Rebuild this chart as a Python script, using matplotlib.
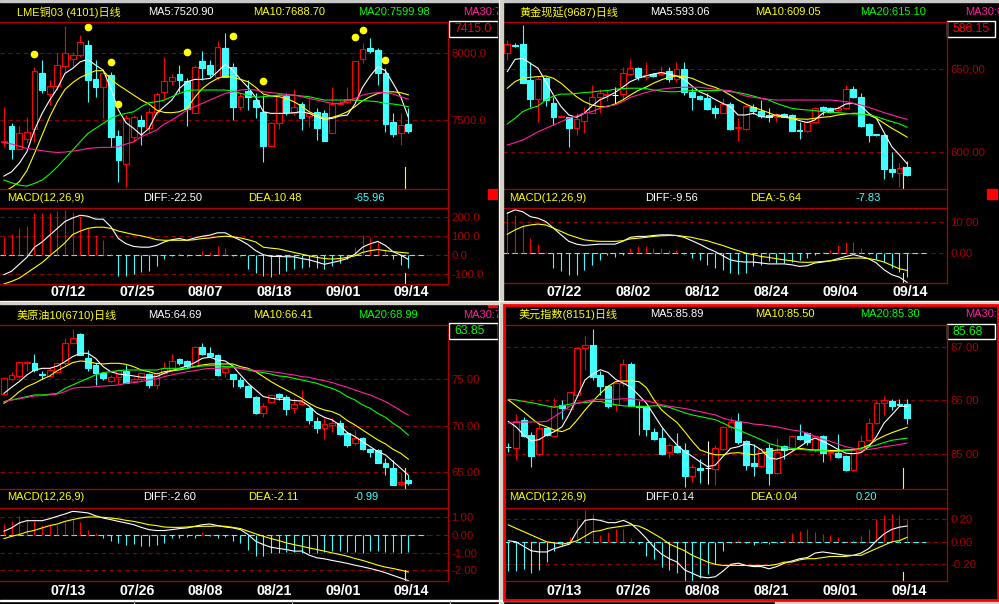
import numpy as np
import matplotlib
matplotlib.use('Agg')
import matplotlib.pyplot as plt
from matplotlib.patches import Rectangle

plt.rcParams['font.family'] = ['Liberation Sans', 'Noto Sans CJK SC', 'DejaVu Sans']

W, H = 999, 604
UP = '#ff0000'
DOWN = '#40ffff'
FRAME = '#b00000'
GRID = '#900000'
LABEL = '#a80000'
YELLOW = '#ffff00'
MA_COLORS = ['#ffffff', '#ffff00', '#00ff00', '#ff20a0']

# ---------------- LME copper ----------------
lme_open = [7337, 7457, 7280, 7355, 7430, 7855, 7692, 7757, 7907, 7955,
            7987, 8062, 7807, 7750, 7837, 7380, 7167, 7375, 7500, 7437,
            7562, 7712, 7795, 7845, 7792, 7550, 7942, 7912, 7820, 8037,
            7900, 7600, 7720, 7650, 7562, 7305, 7480, 7680, 7555, 7620,
            7530, 7562, 7550, 7405, 7620, 7637, 7650, 7960, 8037, 8025,
            7850, 7482, 7400, 7470]
lme_high = [7595, 7480, 7455, 7525, 7900, 7950, 7800, 8000, 8205, 8012,
            8137, 8100, 7950, 7875, 7862, 7425, 7537, 7537, 7537, 7587,
            7712, 7970, 7845, 7912, 7812, 7912, 8017, 7950, 8095, 8150,
            7925, 7700, 7800, 7700, 7687, 7487, 7700, 7700, 7730, 7637,
            7655, 7587, 7575, 7745, 7650, 7745, 7945, 8075, 8112, 8037,
            7887, 7550, 7550, 7587]
lme_low = [7300, 7205, 7275, 7330, 7337, 7700, 7612, 7725, 7862, 7905,
           7975, 7637, 7675, 7512, 7300, 7037, 7000, 7337, 7312, 7400,
           7537, 7650, 7762, 7712, 7455, 7550, 7800, 7825, 7800, 7825,
           7500, 7575, 7575, 7512, 7187, 7300, 7430, 7537, 7537, 7425,
           7450, 7350, 7345, 7405, 7612, 7625, 7650, 7925, 8000, 7762,
           7412, 7375, 7312, 7400]
lme_close = [7345, 7280, 7400, 7412, 7867, 7725, 7757, 7910, 8000, 7985,
             8082, 7800, 7745, 7850, 7375, 7200, 7512, 7520, 7455, 7562,
             7692, 7795, 7825, 7800, 7580, 7895, 7892, 7845, 8050, 7825,
             7600, 7682, 7675, 7600, 7305, 7480, 7687, 7562, 7600, 7512,
             7550, 7442, 7345, 7620, 7630, 7655, 7942, 8030, 8020, 7850,
             7467, 7395, 7462, 7415]
lme_ma5 = [7080, 7112, 7175, 7262, 7425, 7550, 7650, 7737, 7850, 7887,
           7937, 7955, 7912, 7875, 7737, 7575, 7480, 7437, 7387, 7437,
           7550, 7600, 7650, 7737, 7787, 7805, 7805, 7812, 7862, 7917,
           7875, 7805, 7745, 7670, 7562, 7550, 7550, 7550, 7555, 7562,
           7550, 7525, 7505, 7512, 7530, 7537, 7620, 7745, 7830, 7900,
           7870, 7775, 7675, 7521]
lme_ma10 = [6962, 6995, 7037, 7120, 7250, 7387, 7525, 7637, 7730, 7780,
            7820, 7845, 7870, 7870, 7805, 7762, 7725, 7687, 7650, 7620,
            7575, 7557, 7555, 7562, 7587, 7670, 7737, 7780, 7812, 7830,
            7820, 7805, 7787, 7745, 7695, 7680, 7675, 7662, 7637, 7605,
            7562, 7537, 7512, 7520, 7537, 7562, 7600, 7645, 7675, 7700,
            7710, 7712, 7705, 7689]
lme_ma20 = [7050, 7030, 7012, 7005, 7025, 7050, 7095, 7150, 7212, 7275,
            7337, 7400, 7437, 7475, 7512, 7537, 7550, 7562, 7600, 7630,
            7637, 7650, 7675, 7700, 7720, 7725, 7725, 7725, 7725, 7725,
            7717, 7700, 7687, 7670, 7675, 7680, 7687, 7687, 7687, 7680,
            7675, 7662, 7650, 7650, 7650, 7650, 7650, 7645, 7642, 7637,
            7625, 7620, 7612, 7600]
lme_ma30 = [7330, 7320, 7305, 7287, 7280, 7270, 7262, 7257, 7260, 7267,
            7275, 7287, 7292, 7295, 7295, 7300, 7320, 7337, 7375, 7400,
            7425, 7470, 7500, 7537, 7575, 7600, 7625, 7650, 7675, 7700,
            7712, 7725, 7730, 7725, 7712, 7705, 7700, 7692, 7687, 7675,
            7662, 7650, 7637, 7625, 7625, 7645, 7662, 7687, 7700, 7705,
            7705, 7695, 7675, 7657]
lme_diff = [-102, -84, -48, -12, 41, 68, 104, 139, 175, 193,
            207, 202, 187, 187, 148, 86, 59, 45, 41, 41,
            50, 68, 80, 86, 77, 89, 98, 104, 116, 116,
            95, 77, 54, 23, 2, -7, -7, -9, -9, -18,
            -25, -36, -48, -39, -30, -18, 5, 41, 59, 71,
            50, 18, 0, -22.5]
lme_dea = [-150, -137, -120, -93, -66, -39, -4, 29, 64, 107,
           125, 139, 145, 145, 139, 125, 116, 107, 100, 91,
           80, 77, 77, 77, 77, 80, 86, 89, 95, 98,
           95, 89, 80, 68, 41, 36, 32, 23, 14, 5,
           -4, -12, -18, -21, -18, -12, -4, 14, 23, 29,
           23, 18, 14, 10.5]
lme_macd = [95, 112, 143, 152, 220, 220, 220, 228, 234, 225,
            202, 139, 104, 77, 5, -107, -107, -96, -89, -84,
            -57, -21, -7, 9, -5, 5, 23, 18, 46, 36,
            -5, -5, -75, -93, -111, -114, -96, -84, -75, -66,
            -61, -66, -75, -57, -39, -21, 41, 104, 89, 68,
            32, -21, -54, -66]
lme_dot_idx = [4, 11, 14, 15, 24, 30, 34, 46, 47, 50]
lme_dot_val = [7995, 8197, 7935, 7620, 8010, 8130, 7792, 8122, 8175, 7950]
lme_dates = ['07/12', '07/25', '08/07', '08/18', '09/01', '09/14']
lme_date_idx = [8, 17, 26, 35, 44, 53]

# ---------------- Gold ----------------
gold_open = [659.6, 664.5, 665.3, 643.6, 631.9, 644.6, 629.5, 621.1, 621.1, 614.9,
             619.1, 623.9, 633.1, 634.5, 634.5, 635.1, 647.2, 650.6, 645.2, 647.2,
             647.2, 649.2, 644.2, 650.0, 636.5, 633.9, 632.9, 626.5, 623.9, 629.1,
             614.9, 613.9, 627.5, 624.9, 622.5, 621.5, 622.9, 622.5, 613.5, 612.9,
             618.5, 627.1, 626.5, 625.5, 626.5, 638.0, 633.1, 617.1, 610.8, 610.4,
             590.0, 587.3, 591.0]
gold_high = [667.7, 665.7, 676.7, 654.6, 645.2, 645.2, 633.5, 622.5, 621.5, 623.5,
             627.1, 640.6, 638.0, 637.0, 639.6, 651.6, 656.0, 651.6, 654.6, 648.0,
             652.0, 651.6, 654.6, 654.6, 638.6, 634.5, 635.5, 628.5, 632.5, 630.5,
             620.5, 628.5, 629.1, 631.5, 626.5, 623.9, 623.5, 622.9, 618.5, 619.5,
             627.5, 627.9, 627.1, 627.9, 640.6, 640.0, 635.5, 617.5, 611.0, 610.8,
             600.4, 593.4, 595.0]
gold_low = [655.6, 663.7, 641.6, 627.5, 618.5, 627.9, 616.5, 620.5, 603.0, 610.4,
            611.4, 623.5, 623.5, 631.0, 629.5, 631.5, 646.6, 643.6, 643.6, 645.2,
            646.0, 642.6, 642.6, 634.5, 625.5, 631.5, 625.5, 620.5, 623.5, 613.5,
            607.0, 613.5, 623.1, 620.5, 618.5, 618.5, 621.1, 612.9, 607.8, 612.4,
            617.9, 622.5, 623.9, 624.5, 625.9, 632.5, 615.5, 606.4, 610.0, 583.7,
            585.3, 579.3, 585.7]
gold_close = [665.1, 663.9, 641.6, 631.9, 644.2, 631.5, 621.5, 621.9, 614.9, 619.9,
              623.5, 633.1, 635.5, 635.1, 634.5, 647.6, 650.6, 645.2, 646.6, 646.0,
              648.6, 644.2, 650.0, 636.5, 633.5, 632.1, 626.1, 623.9, 629.1, 614.1,
              615.3, 627.9, 625.1, 621.9, 621.5, 622.9, 621.5, 613.1, 612.9, 618.5,
              626.9, 625.5, 624.5, 626.5, 638.0, 633.1, 615.9, 610.4, 610.4, 590.0,
              588.4, 590.4, 586.15]
gold_ma5 = [648.6, 656.0, 656.6, 653.6, 650.6, 642.6, 634.5, 627.5, 622.5, 621.1,
            623.5, 627.9, 631.5, 633.5, 636.0, 639.2, 642.6, 644.6, 646.0, 647.2,
            648.0, 647.2, 646.0, 644.0, 640.0, 636.5, 634.5, 631.9, 629.5, 627.5,
            622.5, 622.5, 623.5, 621.5, 621.1, 622.5, 621.9, 620.5, 619.1, 617.9,
            619.5, 623.5, 625.5, 626.5, 629.1, 629.5, 627.9, 623.5, 620.5, 611.9,
            603.4, 598.4, 593.1]
gold_ma10 = [638.6, 642.6, 644.6, 645.2, 645.6, 646.0, 644.6, 641.6, 637.5, 633.5,
             630.5, 628.5, 627.5, 627.5, 629.1, 631.5, 634.5, 637.2, 639.2, 641.6,
             643.6, 645.2, 646.0, 645.6, 644.6, 642.6, 640.6, 639.2, 637.2, 634.5,
             631.5, 629.1, 627.1, 625.5, 623.9, 621.9, 621.1, 620.5, 620.1, 619.9,
             620.5, 621.1, 621.5, 622.5, 623.1, 623.5, 623.5, 622.5, 620.5, 617.5,
             614.5, 611.9, 609.1]
gold_ma20 = [617.1, 620.5, 624.5, 626.5, 627.9, 631.5, 633.9, 635.1, 635.1, 635.5,
             636.0, 636.3, 636.9, 637.2, 638.0, 638.4, 638.6, 638.6, 638.4, 637.5,
             636.9, 636.5, 636.5, 636.9, 637.2, 637.2, 637.2, 637.2, 637.2, 636.5,
             636.0, 635.1, 633.9, 632.5, 631.5, 629.5, 627.9, 626.5, 625.9, 625.5,
             625.1, 624.5, 624.1, 623.9, 623.5, 623.1, 623.1, 622.5, 621.5, 619.9,
             618.5, 617.1, 615.1]
gold_ma30 = [604.4, 605.8, 607.4, 609.8, 612.4, 614.4, 616.5, 618.5, 620.5, 621.9,
             623.5, 624.5, 626.5, 627.9, 628.5, 630.5, 633.1, 634.5, 636.0, 637.2,
             638.0, 638.6, 639.0, 639.2, 639.2, 639.2, 638.6, 638.0, 637.5, 637.2,
             635.5, 633.9, 633.1, 632.5, 631.9, 631.5, 631.5, 631.5, 631.5, 631.5,
             631.5, 631.5, 631.5, 631.1, 630.5, 629.5, 628.5, 627.1, 625.5, 623.9,
             622.5, 621.1, 619.9]
gold_diff = [12.9, 14.0, 13.4, 11.8, 11.3, 10.2, 8.1, 5.9, 3.8, 2.9,
             2.5, 2.7, 2.9, 2.9, 2.9, 3.8, 5.1, 5.4, 5.4, 5.7,
             5.9, 5.9, 5.7, 5.1, 4.0, 2.9, 1.6, 0.5, -0.8, -2.2,
             -2.7, -2.9, -2.9, -3.2, -3.5, -3.5, -3.5, -3.8, -4.3, -4.1,
             -3.2, -2.9, -2.5, -1.8, -1.1, -0.5, -1.1, -1.8, -3.2, -5.4,
             -7.0, -7.8, -9.5]
gold_dea = [6.1, 7.5, 8.6, 9.1, 9.4, 9.1, 8.1, 7.0, 5.9, 5.1,
            4.3, 4.0, 3.8, 3.8, 3.8, 4.0, 4.6, 4.8, 5.1, 5.4,
            5.6, 5.7, 5.7, 5.4, 5.1, 4.5, 4.0, 3.2, 2.5, 1.6,
            0.8, 0.0, -0.5, -1.1, -1.4, -1.8, -2.2, -2.5, -2.9, -3.0,
            -2.9, -2.7, -2.5, -2.2, -1.8, -1.6, -1.6, -1.8, -2.2, -2.9,
            -4.0, -5.1, -5.6]
gold_macd = [13.7, 12.4, 9.1, 4.8, 2.9, 0.3, -4.8, -5.7, -7.2, -7.0,
             -5.4, -3.8, -2.2, -0.5, -1.4, -0.5, 1.6, 2.2, 2.2, 1.6,
             1.8, 1.1, 1.1, -0.3, -1.6, -2.2, -3.8, -4.8, -5.4, -6.5,
             -6.8, -6.5, -4.3, -3.8, -2.7, -3.2, -3.2, -2.9, -2.2, -1.6,
             -0.5, 0.2, 1.1, 2.7, 3.5, 3.5, 1.8, -0.3, -1.8, -2.9,
             -4.8, -6.1, -7.83]
gold_dates = ['07/22', '08/02', '08/12', '08/24', '09/04', '09/14']
gold_date_idx = [7, 16, 25, 34, 43, 52]

# ---------------- Crude oil ----------------
oil_open = [73.42, 75.00, 75.36, 76.72, 76.72, 75.57, 75.36, 75.82, 76.72, 78.87,
            79.84, 77.26, 76.54, 75.72, 74.86, 75.29, 75.93, 74.82, 75.00, 75.57,
            74.39, 75.65, 76.00, 77.15, 77.01, 76.43, 78.51, 77.87, 77.62, 75.82,
            75.57, 74.93, 74.28, 73.14, 71.42, 72.60, 73.39, 73.14, 71.88, 72.35,
            71.88, 70.52, 69.73, 70.09, 70.27, 69.27, 68.12, 68.66, 67.51, 67.40,
            65.97, 65.43, 63.75, 64.18]
oil_high = [75.22, 75.82, 76.90, 76.97, 77.69, 75.90, 76.36, 76.90, 79.41, 80.38,
            79.95, 78.15, 76.72, 75.82, 75.47, 76.08, 76.54, 75.22, 75.82, 75.72,
            75.82, 76.90, 77.72, 77.26, 77.08, 78.58, 78.94, 78.51, 77.69, 76.36,
            75.57, 75.29, 74.39, 73.22, 72.42, 73.39, 73.50, 73.32, 72.96, 73.85,
            72.06, 70.99, 70.81, 70.81, 70.63, 69.37, 69.55, 68.76, 67.58, 67.47,
            66.51, 66.33, 64.96, 64.71]
oil_low = [73.39, 74.93, 75.11, 75.90, 75.82, 75.00, 75.22, 75.65, 76.54, 78.80,
           77.62, 75.90, 74.39, 74.93, 74.75, 74.50, 74.57, 74.64, 74.86, 74.03,
           73.92, 75.57, 75.82, 76.54, 76.18, 76.36, 77.62, 77.44, 75.36, 75.22,
           74.14, 74.03, 73.06, 71.27, 70.99, 72.42, 72.78, 71.17, 71.34, 72.24,
           70.20, 69.27, 68.55, 69.37, 69.01, 67.76, 67.94, 67.40, 66.69, 65.97,
           64.71, 63.64, 63.53, 63.64]
oil_close = [75.11, 75.47, 76.83, 76.83, 76.00, 75.43, 76.00, 76.72, 78.87, 79.41,
             77.62, 76.18, 75.65, 75.11, 75.29, 76.00, 74.64, 75.00, 75.72, 74.39,
             75.72, 76.18, 76.97, 76.72, 76.43, 78.51, 77.72, 77.51, 75.47, 76.18,
             75.00, 74.28, 73.14, 71.34, 72.13, 73.32, 73.06, 71.77, 72.35, 72.60,
             70.63, 69.73, 70.16, 70.34, 69.12, 67.94, 68.66, 67.47, 67.22, 66.04,
             65.54, 63.64, 64.00, 63.85]
oil_ma5 = [73.49, 74.14, 74.75, 75.47, 76.00, 76.18, 76.18, 76.43, 76.90, 77.44,
           77.80, 77.80, 77.26, 76.36, 75.82, 75.57, 75.47, 75.36, 75.22, 75.22,
           75.29, 75.65, 75.93, 76.18, 76.43, 76.79, 77.26, 77.37, 77.08, 76.97,
           76.43, 75.47, 74.57, 73.85, 73.14, 72.96, 72.85, 72.85, 72.71, 72.67,
           72.13, 71.34, 70.91, 70.63, 70.09, 69.27, 68.84, 68.30, 67.76, 67.22,
           66.87, 66.15, 65.43, 64.69]
oil_ma10 = [72.42, 72.96, 73.67, 74.21, 74.57, 75.00, 75.36, 75.93, 76.36, 76.79,
            76.97, 76.90, 76.72, 76.65, 76.72, 76.72, 76.61, 76.36, 76.00, 75.82,
            75.57, 75.82, 75.93, 76.00, 76.18, 76.36, 76.54, 76.65, 76.65, 76.65,
            76.65, 76.36, 76.18, 75.82, 75.29, 74.75, 74.28, 73.85, 73.42, 72.96,
            72.42, 71.99, 71.70, 71.52, 71.17, 70.56, 70.09, 69.55, 69.01, 68.48,
            68.05, 67.47, 67.04, 66.41]
oil_ma20 = [72.60, 72.78, 72.96, 73.14, 73.32, 73.32, 73.39, 73.49, 74.03, 74.39,
            74.75, 75.11, 75.47, 75.72, 75.82, 75.93, 76.00, 76.00, 76.00, 76.00,
            76.00, 76.18, 76.18, 76.18, 76.18, 76.36, 76.43, 76.47, 76.47, 76.36,
            76.36, 76.18, 76.00, 75.82, 75.72, 75.57, 75.36, 75.29, 75.11, 74.93,
            74.75, 74.57, 74.28, 74.03, 73.67, 73.14, 72.78, 72.24, 71.88, 71.34,
            70.91, 70.27, 69.73, 68.99]
oil_ma30 = [72.60, 72.78, 72.89, 73.06, 73.21, 73.24, 73.32, 73.42, 73.67, 74.03,
            74.14, 74.14, 74.21, 74.28, 74.32, 74.39, 74.57, 74.64, 74.75, 74.93,
            75.04, 75.29, 75.47, 75.65, 75.82, 75.93, 76.08, 76.18, 76.18, 76.25,
            76.25, 76.18, 76.08, 75.93, 75.90, 75.82, 75.72, 75.57, 75.47, 75.29,
            75.22, 75.00, 74.86, 74.64, 74.39, 74.14, 73.85, 73.57, 73.32, 72.96,
            72.60, 72.13, 71.63, 71.17]
oil_diff = [0.21, 0.40, 0.68, 0.81, 0.81, 0.81, 0.92, 1.06, 1.19, 1.34,
            1.30, 1.25, 1.09, 0.96, 0.87, 0.77, 0.68, 0.58, 0.43, 0.30,
            0.25, 0.25, 0.30, 0.36, 0.40, 0.49, 0.58, 0.62, 0.53, 0.45,
            0.40, 0.30, 0.02, -0.36, -0.55, -0.70, -0.77, -0.83, -0.92, -0.92,
            -1.15, -1.30, -1.36, -1.45, -1.53, -1.62, -1.72, -1.81, -1.91, -2.02,
            -2.15, -2.30, -2.45, -2.60]
oil_dea = [-0.21, -0.08, 0.02, 0.17, 0.26, 0.40, 0.53, 0.62, 0.77, 0.87,
           0.96, 1.02, 1.02, 1.00, 0.96, 0.91, 0.83, 0.77, 0.68, 0.58,
           0.53, 0.45, 0.43, 0.43, 0.45, 0.47, 0.49, 0.49, 0.51, 0.49,
           0.43, 0.36, 0.21, 0.06, -0.08, -0.21, -0.32, -0.45, -0.55, -0.64,
           -0.74, -0.83, -0.92, -1.02, -1.11, -1.21, -1.34, -1.45, -1.58, -1.72,
           -1.83, -1.91, -2.00, -2.11]
oil_macd = [0.62, 0.77, 1.09, 0.92, 0.81, 0.58, 0.62, 0.58, 0.77, 0.83,
            0.74, 0.30, 0.11, -0.17, -0.36, -0.45, -0.55, -0.51, -0.64, -0.64,
            -0.55, -0.45, -0.17, -0.17, -0.13, -0.17, 0.17, -0.08, -0.17, -0.13,
            -0.36, -0.45, -0.83, -1.21, -1.21, -1.02, -1.02, -0.96, -0.96, -1.02,
            -1.02, -1.02, -0.96, -0.92, -0.92, -0.96, -0.96, -1.02, -0.92, -0.92,
            -0.96, -0.96, -1.00, -0.99]
oil_dates = ['07/13', '07/26', '08/08', '08/21', '09/01', '09/14']
oil_date_idx = [8, 17, 26, 35, 44, 53]

# ---------------- Dollar index ----------------
usd_open = [85.14, 85.11, 85.64, 85.36, 85.01, 85.48, 85.34, 85.92, 85.84, 86.10,
            86.97, 87.03, 86.47, 86.27, 85.92, 86.32, 86.68, 85.90, 85.89, 85.42,
            85.30, 85.04, 85.16, 85.08, 84.60, 84.74, 84.74, 84.72, 85.09, 85.50,
            85.61, 85.24, 84.83, 84.79, 85.12, 84.65, 85.16, 85.09, 85.34, 85.39,
            85.08, 85.33, 85.02, 85.03, 84.97, 84.70, 85.07, 85.27, 85.58, 85.96,
            85.99, 85.94, 85.94]
usd_high = [85.20, 85.75, 85.70, 85.42, 85.58, 85.51, 86.04, 86.01, 86.16, 86.99,
            87.19, 87.32, 86.54, 86.29, 86.38, 86.77, 86.72, 85.98, 85.90, 85.48,
            85.48, 85.20, 85.39, 85.20, 84.82, 84.91, 85.24, 85.17, 85.53, 85.69,
            85.76, 85.27, 85.19, 85.14, 85.19, 85.31, 85.17, 85.36, 85.56, 85.42,
            85.36, 85.36, 85.08, 85.38, 84.99, 85.09, 85.36, 85.67, 86.01, 86.08,
            86.02, 86.02, 86.02]
usd_low = [85.05, 84.90, 85.32, 84.77, 84.97, 85.34, 85.33, 85.65, 85.82, 86.07,
           86.57, 86.37, 86.10, 85.86, 85.81, 86.27, 85.89, 85.36, 85.33, 85.27,
           84.99, 84.93, 85.02, 84.40, 84.49, 84.47, 84.45, 84.43, 85.08, 85.45,
           85.19, 84.71, 84.60, 84.77, 84.43, 84.64, 84.91, 85.05, 85.27, 85.17,
           85.05, 84.85, 84.90, 84.93, 84.68, 84.68, 85.05, 85.24, 85.56, 85.73,
           85.82, 85.89, 85.56]
usd_close = [85.13, 85.61, 85.34, 84.97, 85.48, 85.36, 85.90, 85.86, 86.15, 86.97,
             87.03, 86.44, 86.27, 85.89, 86.33, 86.68, 85.90, 85.87, 85.47, 85.28,
             85.01, 85.17, 85.05, 84.59, 84.76, 84.71, 84.74, 85.11, 85.50, 85.59,
             85.22, 84.80, 84.78, 85.09, 84.65, 85.05, 85.08, 85.33, 85.28, 85.22,
             85.33, 85.02, 85.05, 84.94, 84.70, 85.07, 85.24, 85.58, 85.96, 86.00,
             85.90, 85.92, 85.68]
usd_ma5 = [85.61, 85.51, 85.36, 85.25, 85.27, 85.36, 85.42, 85.51, 85.76, 86.07,
           86.38, 86.49, 86.57, 86.52, 86.39, 86.32, 86.24, 86.10, 85.95, 85.73,
           85.51, 85.33, 85.17, 85.05, 84.96, 84.86, 84.77, 84.80, 84.96, 85.11,
           85.14, 85.20, 85.17, 85.08, 84.93, 84.91, 84.96, 85.05, 85.14, 85.24,
           85.30, 85.24, 85.17, 85.09, 85.02, 85.01, 85.03, 85.14, 85.33, 85.58,
           85.73, 85.89, 85.89]
usd_ma10 = [86.01, 85.90, 85.79, 85.67, 85.56, 85.51, 85.45, 85.42, 85.48, 85.64,
            85.82, 85.98, 86.13, 86.26, 86.35, 86.36, 86.36, 86.35, 86.24, 86.01,
            85.82, 85.70, 85.59, 85.42, 85.24, 85.08, 85.03, 84.99, 84.99, 85.02,
            85.03, 85.01, 84.99, 85.02, 85.05, 85.08, 85.08, 85.09, 85.11, 85.09,
            85.08, 85.08, 85.07, 85.07, 85.08, 85.09, 85.11, 85.17, 85.27, 85.34,
            85.40, 85.45, 85.50]
usd_ma20 = [86.02, 86.01, 85.98, 85.96, 85.93, 85.90, 85.87, 85.90, 85.93, 85.95,
            85.96, 85.98, 85.98, 85.95, 85.92, 85.90, 85.89, 85.89, 85.89, 85.90,
            85.90, 85.87, 85.82, 85.77, 85.73, 85.70, 85.67, 85.64, 85.58, 85.51,
            85.45, 85.39, 85.33, 85.27, 85.20, 85.16, 85.13, 85.11, 85.09, 85.08,
            85.07, 85.07, 85.05, 85.05, 85.07, 85.08, 85.11, 85.14, 85.17, 85.22,
            85.26, 85.28, 85.30]
usd_ma30 = [85.58, 85.59, 85.60, 85.60, 85.60, 85.61, 85.70, 85.79, 85.89, 85.95,
            85.98, 86.01, 86.02, 86.02, 86.02, 86.03, 86.03, 86.01, 85.99, 85.96,
            85.92, 85.89, 85.87, 85.85, 85.82, 85.79, 85.76, 85.73, 85.67, 85.63,
            85.61, 85.59, 85.56, 85.55, 85.53, 85.51, 85.48, 85.45, 85.43, 85.39,
            85.33, 85.28, 85.24, 85.19, 85.14, 85.11, 85.08, 85.09, 85.11, 85.14,
            85.16, 85.18, 85.21]
usd_diff = [0.01, 0.00, -0.04, -0.08, -0.09, -0.09, -0.06, -0.04, -0.02, 0.10,
            0.19, 0.20, 0.19, 0.17, 0.17, 0.19, 0.16, 0.10, 0.03, -0.05,
            -0.11, -0.15, -0.18, -0.25, -0.28, -0.31, -0.32, -0.31, -0.26, -0.20,
            -0.19, -0.21, -0.22, -0.22, -0.24, -0.22, -0.19, -0.17, -0.15, -0.14,
            -0.10, -0.09, -0.10, -0.11, -0.12, -0.12, -0.10, -0.06, 0.01, 0.07,
            0.11, 0.13, 0.14]
usd_dea = [0.15, 0.12, 0.09, 0.06, 0.03, 0.00, -0.01, -0.02, -0.01, 0.01,
           0.05, 0.09, 0.10, 0.12, 0.13, 0.14, 0.15, 0.14, 0.11, 0.07,
           0.03, -0.02, -0.05, -0.08, -0.12, -0.15, -0.18, -0.20, -0.21, -0.21,
           -0.21, -0.21, -0.21, -0.21, -0.21, -0.20, -0.18, -0.18, -0.16, -0.15,
           -0.15, -0.14, -0.13, -0.13, -0.13, -0.12, -0.12, -0.09, -0.06, -0.03,
           0.00, 0.01, 0.04]
usd_macd = [-0.26, -0.26, -0.24, -0.28, -0.25, -0.18, -0.08, -0.03, 0.04, 0.19,
            0.28, 0.25, 0.06, 0.09, 0.11, 0.11, 0.03, -0.02, -0.13, -0.15,
            -0.22, -0.25, -0.28, -0.35, -0.35, -0.32, -0.29, -0.20, -0.08, -0.01,
            0.02, -0.01, -0.03, -0.01, -0.02, -0.01, 0.02, 0.08, 0.10, 0.11,
            0.09, 0.07, 0.06, 0.04, 0.01, 0.02, 0.05, 0.11, 0.20, 0.24,
            0.25, 0.24, 0.20]
usd_dates = ['07/13', '07/26', '08/08', '08/21', '09/01', '09/14']
usd_date_idx = [7, 16, 25, 34, 43, 52]

# header texts (the MA30 entry is cut by the window edge in the source)
lme_head = ['LME铜03 (4101)日线', 'MA5:7520.90', 'MA10:7688.70', 'MA20:7599.98', 'MA30:7']
lme_macd_head = ['MACD(12,26,9)', 'DIFF:-22.50', 'DEA:10.48', '-65.96']
gold_head = ['黄金现延(9687)日线', 'MA5:593.06', 'MA10:609.05', 'MA20:615.10', 'MA30:6']
gold_macd_head = ['MACD(12,26,9)', 'DIFF:-9.56', 'DEA:-5.64', '-7.83']
oil_head = ['美原油10(6710)日线', 'MA5:64.69', 'MA10:66.41', 'MA20:68.99', 'MA30:7']
oil_macd_head = ['MACD(12,26,9)', 'DIFF:-2.60', 'DEA:-2.11', '-0.99']
usd_head = ['美元指数(8151)日线', 'MA5:85.89', 'MA10:85.50', 'MA20:85.30', 'MA30:8']
usd_macd_head = ['MACD(12,26,9)', 'DIFF:0.14', 'DEA:0.04', '0.20']

HEAD_DX = [17, 148, 253, 358, 463]
HEAD_COLORS = [YELLOW] + MA_COLORS
MACD_DX = [7, 143, 248, 354]
MACD_COLORS = [YELLOW, '#ffffff', YELLOW, DOWN]
HEAD_FS = 8
TICK_FS = 8.2

fig = plt.figure(figsize=(W / 100, H / 100), dpi=100, facecolor='black')


def px_axes(x0, y0, x1, y1, z=1):
    return fig.add_axes([x0 / W, 1 - y1 / H, (x1 - x0) / W, (y1 - y0) / H], zorder=z)


def clean(ax):
    ax.set_facecolor('none')
    for s in ax.spines.values():
        s.set_visible(False)
    ax.tick_params(length=0)


def draw_panel(g, o, h, l, c, mas, diff, dea, hist, head, macd_head, dates, date_idx):
    o, h, l, c = (np.asarray(v, float) for v in (o, h, l, c))
    hist = np.asarray(hist, float)
    x = np.arange(len(c))
    pt, pb = g['price_y']
    mt, mb = g['macd_y']

    # candles + moving averages
    ax = px_axes(g['left'], pt, g['axis_x'], pb)
    clean(ax)
    ax.set_xlim(*g['xlim'])
    ax.set_ylim(*g['ylim_p'])
    ax.set_xticks([])
    ax.yaxis.tick_right()
    ax.set_yticks(g['pticks'])
    ax.set_yticklabels([g['pfmt'] % t for t in g['pticks']])
    ax.tick_params(axis='y', pad=2.5, labelcolor=LABEL, labelsize=TICK_FS)
    ax.grid(axis='y', color=GRID, linestyle=(0, (4, 3)), linewidth=0.8)
    col = np.where(c > o, UP, np.where(c < o, DOWN, '#ffffff'))
    face = np.where(c > o, 'black', col)
    ax.vlines(x, l, h, colors=col, linewidth=0.8, zorder=2)
    ax.bar(x, np.abs(c - o), bottom=np.minimum(o, c), width=0.76,
           color=face, edgecolor=col, linewidth=0.8, zorder=3)
    for ma, mc in zip(mas, MA_COLORS):
        ax.plot(x, ma, color=mc, linewidth=0.8, zorder=4)
    ax.axvline(g['cursor'], 0, g['cur_p'], color=YELLOW, linewidth=0.8)

    # MACD
    am = px_axes(g['left'], mt, g['axis_x'], mb)
    clean(am)
    am.set_xlim(*g['xlim'])
    am.set_ylim(*g['ylim_m'])
    am.yaxis.tick_right()
    am.set_yticks(g['mticks'])
    am.set_yticklabels([g['mfmt'] % t for t in g['mticks']])
    am.tick_params(axis='y', pad=2.5, labelcolor=LABEL, labelsize=TICK_FS)
    am.grid(axis='y', color=GRID, linestyle=(0, (4, 3)), linewidth=0.8)
    am.set_xticks(np.asarray(date_idx) + g['date_shift'])
    am.set_xticklabels(dates, color='white', fontweight='bold', fontsize=10.2)
    am.tick_params(axis='x', pad=g['date_pad'])
    am.hlines(0, -0.5, len(x) + 1.5, colors=DOWN, linestyles=(0, (5, 3)), linewidth=0.8)
    am.vlines(x, 0, hist, colors=np.where(hist >= 0, UP, DOWN), linewidth=0.8)
    am.plot(x, diff, color='white', linewidth=0.8)
    am.plot(x, dea, color=YELLOW, linewidth=0.8)
    am.axvline(g['cursor'], 0, g['cur_m'], color=YELLOW, linewidth=0.8)

    # frame, headers, last price box
    ov = px_axes(g['x0'], g['y0'], g['x1'], g['y1'], z=5)
    ov.set_xlim(g['x0'], g['x1'])
    ov.set_ylim(g['y1'], g['y0'])
    ov.axis('off')
    for yy in (pt, pb, mt, mb):
        ov.plot([g['left'], g['axis_x']], [yy, yy], color=FRAME, linewidth=0.9)
    ov.plot([g['axis_x'], g['axis_x']], [pt, mb], color=FRAME, linewidth=0.9)
    for dx, s, tc in zip(HEAD_DX, head, HEAD_COLORS):
        ov.text(g['x0'] + dx, g['title_y'], s, color=tc, fontsize=HEAD_FS, va='center', clip_on=True)
    for dx, s, tc in zip(MACD_DX, macd_head, MACD_COLORS):
        ov.text(g['x0'] + dx, g['head_y'], s, color=tc, fontsize=HEAD_FS, va='center', clip_on=True)
    bx, by, bw, bh = g['box']
    ov.add_patch(Rectangle((bx, by), bw, bh, facecolor='black', edgecolor='white', linewidth=1))
    ov.text(bx + 5, by + bh / 2 + 0.5, g['pfmt'] % c[-1], color=g['box_color'], fontsize=8.8, va='center')
    if 'square' in g:
        ov.add_patch(Rectangle(g['square'][:2], *g['square'][2:], color='#ff0000'))
    return ax


lme_geo = dict(x0=0, x1=498, y0=0, y1=300, left=0, axis_x=448, title_y=12, head_y=198,
               price_y=(22, 189), macd_y=(208, 284), xlim=(-0.52, 58.2),
               ylim_p=(6983, 8235), ylim_m=(-150.5, 245), pticks=[7500, 8000], pfmt='%.1f',
               mticks=[-100, 0, 100, 200], mfmt='%.1f', date_shift=0.4, date_pad=0.6,
               cursor=52.6, cur_p=0.13, cur_m=0.145, box=(449, 21, 49, 16), box_color='#ff0000',
               square=(488, 189, 10, 10))
gold_geo = dict(x0=502, x1=999, y0=0, y1=300, left=503, axis_x=947, title_y=12, head_y=198,
                price_y=(22, 189), macd_y=(208, 283), xlim=(-0.56, 57.18),
                ylim_p=(577.9, 678.5), ylim_m=(-9.68, 14.6), pticks=[600, 650], pfmt='%.2f',
                mticks=[0, 10], mfmt='%.2f', date_shift=0.35, date_pad=1.2,
                cursor=51.5, cur_p=0.13, cur_m=0.133, box=(947.5, 21, 48, 16), box_color='#ff0000',
                square=(987, 189, 10, 10))
oil_geo = dict(x0=0, x1=498, y0=304, y1=600, left=0, axis_x=448, title_y=315, head_y=497,
               price_y=(325, 489), macd_y=(508, 581), xlim=(-0.52, 58.2),
               ylim_p=(63.20, 80.84), ylim_m=(-2.62, 1.53), pticks=[65, 70, 75], pfmt='%.2f',
               mticks=[-2, -1, 0, 1], mfmt='%.2f', date_shift=0.4, date_pad=2.3,
               cursor=52.6, cur_p=0.128, cur_m=0.15, box=(449, 323, 49, 16), box_color='#00ff00',
               square=(488, 304, 11, 3))
usd_geo = dict(x0=502, x1=999, y0=304, y1=600, left=506, axis_x=947, title_y=314, head_y=497,
               price_y=(325, 489), macd_y=(508, 581), xlim=(-0.30, 57.2),
               ylim_p=(84.355, 87.40), ylim_m=(-0.348, 0.30), pticks=[85, 86, 87], pfmt='%.2f',
               mticks=[-0.2, 0, 0.2], mfmt='%.2f', date_shift=0.3, date_pad=2.3,
               cursor=51.5, cur_p=0.128, cur_m=0.123, box=(947.5, 324, 48, 15), box_color='#00ff00')

lme_ax = draw_panel(lme_geo, lme_open, lme_high, lme_low, lme_close,
                    [lme_ma5, lme_ma10, lme_ma20, lme_ma30], lme_diff, lme_dea, lme_macd,
                    lme_head, lme_macd_head, lme_dates, lme_date_idx)
lme_ax.plot(lme_dot_idx, lme_dot_val, 'o', color=YELLOW, markersize=4.5, zorder=6)
draw_panel(gold_geo, gold_open, gold_high, gold_low, gold_close,
           [gold_ma5, gold_ma10, gold_ma20, gold_ma30], gold_diff, gold_dea, gold_macd,
           gold_head, gold_macd_head, gold_dates, gold_date_idx)
draw_panel(oil_geo, oil_open, oil_high, oil_low, oil_close,
           [oil_ma5, oil_ma10, oil_ma20, oil_ma30], oil_diff, oil_dea, oil_macd,
           oil_head, oil_macd_head, oil_dates, oil_date_idx)
draw_panel(usd_geo, usd_open, usd_high, usd_low, usd_close,
           [usd_ma5, usd_ma10, usd_ma20, usd_ma30], usd_diff, usd_dea, usd_macd,
           usd_head, usd_macd_head, usd_dates, usd_date_idx)

# window dividers and the active-window border
top = px_axes(0, 0, W, H, z=10)
top.set_xlim(0, W)
top.set_ylim(H, 0)
top.axis('off')
top.add_patch(Rectangle((0, 0), W, 1.5, color='#c8c8c8'))
top.add_patch(Rectangle((498.5, 0), 4, H, color='#d4d0c8'))
top.plot([499, 499], [0, H], color='white', linewidth=0.7)
top.add_patch(Rectangle((0, 300.5), W, 3.3, color='#d4d0c8'))
top.plot([0, W], [301, 301], color='white', linewidth=0.7)
top.add_patch(Rectangle((0, 600.3), W, 0.8, color='white'))
top.add_patch(Rectangle((775, 601), W - 775, 3, color='#d4d0c8'))
for bxx in (134, 292, 450):
    top.plot([bxx, bxx], [601, 604], color='#a0a0a0', linewidth=0.8)
top.add_patch(Rectangle((503.5, 304.5), 494.5, 295, fill=False, edgecolor='#ff0000', linewidth=2))

fig.savefig('out.png', dpi=100, facecolor='black')
